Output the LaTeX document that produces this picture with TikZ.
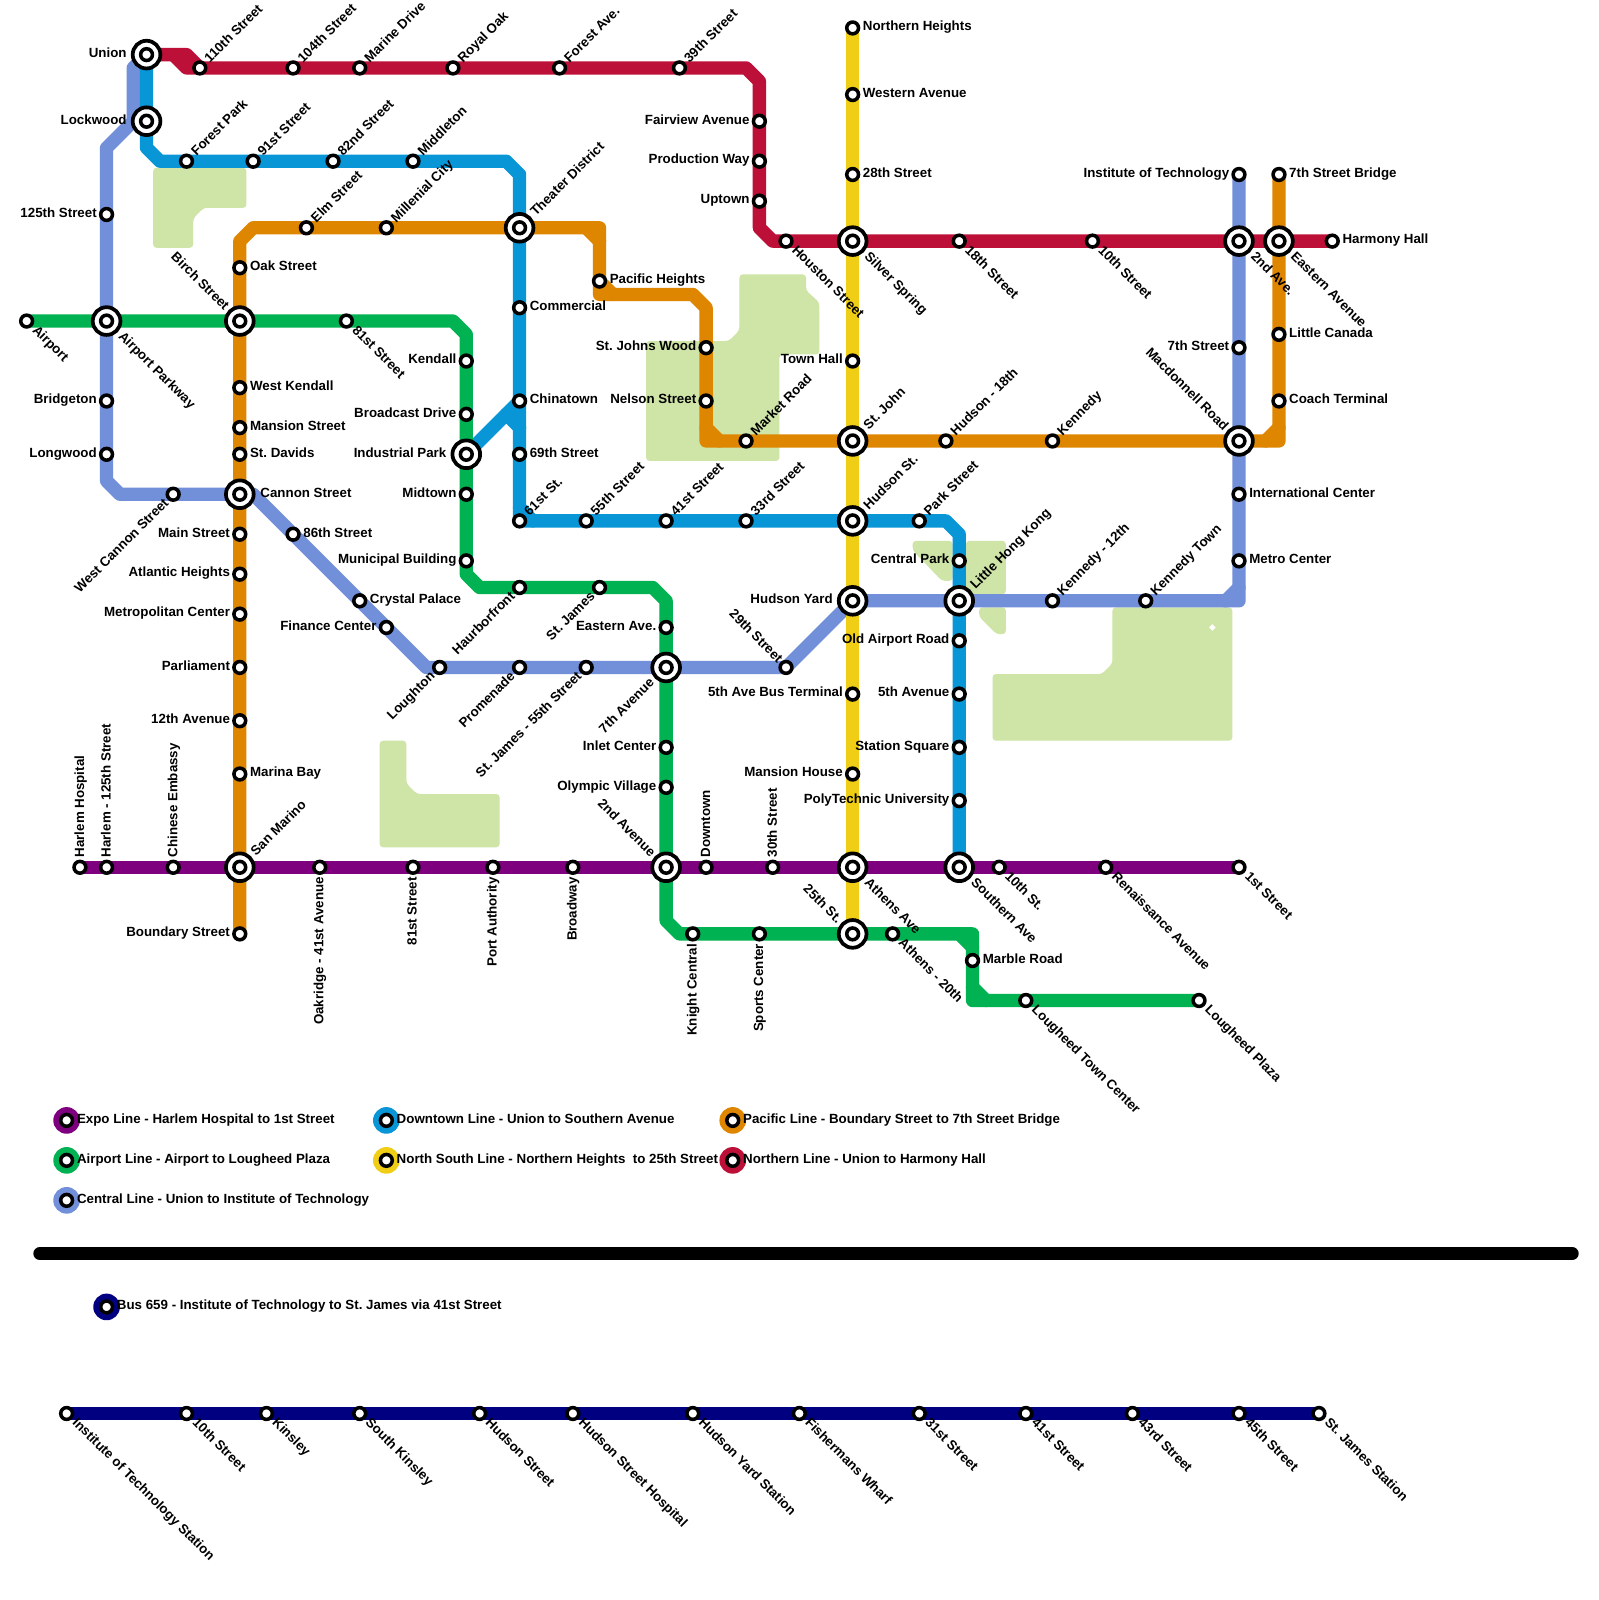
\documentclass[tikz,border=0pt]{standalone}
\usepackage{fontspec}
\setmainfont{Liberation Sans}
\definecolor{cred}{HTML}{BD1038}
\definecolor{cblue}{HTML}{0896D7}
\definecolor{corange}{HTML}{DF8600}
\definecolor{cyellow}{HTML}{F0CE15}
\definecolor{cgreen}{HTML}{00B251}
\definecolor{cperi}{HTML}{728FD9}
\definecolor{cpurple}{HTML}{7E007E}
\definecolor{cnavy}{HTML}{000080}
\definecolor{cpark}{HTML}{CFE4A7}
\pgfdeclarelayer{bg}
\pgfsetlayers{bg,main}
\tikzset{
  metroline/.style={line width=10pt,line cap=round,line join=round},
  station/.style={circle,fill=white,draw=black,line width=2.65pt,minimum size=8.85pt,inner sep=0pt,outer sep=0pt},
  hubring/.style={circle,fill=white,draw=black,line width=2.8pt,minimum size=20.8pt,inner sep=0pt,outer sep=0pt},
  legdot/.style={circle,minimum size=20pt,inner sep=0pt,outer sep=0pt},
  parkarea/.style={fill=cpark,rounded corners=2.5pt},
  lbl/.style={font=\fontsize{10}{12}\selectfont\bfseries\frenchspacing,inner sep=0pt,outer sep=0pt,text height=7.2pt,text depth=0pt},
  R/.style={xshift=7.7pt,yshift=1.5pt,anchor=west},
  L/.style={xshift=-7.4pt,yshift=1.5pt,anchor=east},
  UR/.style={xshift=5pt,yshift=6pt,rotate=45,anchor=west},
  DR/.style={xshift=6.5pt,yshift=-5pt,rotate=-45,anchor=west},
  UL/.style={xshift=-4pt,yshift=5.5pt,rotate=-45,anchor=east},
  DL/.style={xshift=-5.5pt,yshift=-4.8pt,rotate=45,anchor=east},
  VU/.style={xshift=-.5pt,yshift=7.5pt,rotate=90,anchor=west},
  VD/.style={xshift=-.8pt,yshift=-7.5pt,rotate=90,anchor=east},
  HR/.style={xshift=15.5pt,yshift=1.5pt,anchor=west},
  HL/.style={xshift=-15pt,yshift=1.5pt,anchor=east},
  HUR/.style={xshift=9.7pt,yshift=10.7pt,rotate=45,anchor=west},
  HDR/.style={xshift=11pt,yshift=-9.5pt,rotate=-45,anchor=west},
  HUL/.style={xshift=-9.4pt,yshift=10pt,rotate=-45,anchor=east},
  HDL/.style={xshift=-11pt,yshift=-9.6pt,rotate=45,anchor=east},
  LG/.style={xshift=7.8pt,yshift=1.5pt,anchor=west},
}
\newcommand\stn[5]{\node[station] (#1) at (#2,#3) {};\node[lbl,#4] (#1-t) at (#1.center) {#5};}
\newcommand\hub[5]{\node[hubring] (#1) at (#2,#3) {};\node[station] (#1-in) at (#1.center) {};\node[lbl,#4] (#1-t) at (#1.center) {#5};}
\newcommand\leg[5]{\node[legdot,fill=#4] (#1-d) at (#2,#3) {};\node[station] (#1) at (#1-d.center) {};\node[lbl,LG] (#1-t) at (#1.center) {#5};}
\newcommand\metro[3]{\draw[metroline,#1] (#2.center) \foreach \n in {#3} { -- (\n.center) };}
\begin{document}
\begin{tikzpicture}[x=10pt,y=-10pt]
\begin{pgfonlayer}{bg}
\path[use as bounding box,fill=white] (0,0) rectangle (120,120);
\end{pgfonlayer}
% corners
\foreach \n/\x/\y in {rc1/14/4,rc2/56/5,rc3/57/6,rc4/57/17,rc5/58/18,rc6/13/4,rc7/14/5,
 bc1/11/11,bc2/12/12,bc3/38/12,bc4/39/13,bd1/39/38,bd2/40/39,bc6/71/39,bc7/72/40,bc8/38/31,bc9/39/32,
 oc1/18/18,oc2/19/17,oc3/44/17,oc4/45/17,oc5/45/18,oc6/45/22,oc7/46/22,oc8/52/22,oc9/53/23,oc10/53/33,oc11/53/32,oc12/54/33,oc13/96/33,oc14/95/33,oc15/96/32,
 gc1/34/24,gc2/35/25,gc3/35/43,gc4/36/44,gc5/49/44,gc6/50/45,gc7/50/69,gc8/51/70,gc9/73/70,gc10/72/70,gc11/73/71,gc12/73/75,gc13/73/74,gc14/74/75,
 pc1/10/5,pc2/10/9,pc3/8/11,pc4/8/36,pc5/9/37,pc6/19/37,pc7/32/50,pc8/93/45,pc9/92/45,pc10/93/44,pc11/10.5/8.5,
 bar1/3/94,bar2/118/94}
  {\coordinate (\n) at (\x,\y);}
% hubs
\hub{union}{11}{4}{HL}{Union}
\hub{lockwood}{11}{9}{HL}{Lockwood}
\hub{theater}{39}{17}{HUR}{Theater District}
\hub{silver}{64}{18}{HDR}{Silver Spring}
\hub{secondave}{93}{18}{HDR}{2nd Ave.}
\hub{eastern}{96}{18}{HDR}{Eastern Avenue}
\hub{airportpk}{8}{24}{HDR}{Airport Parkway}
\hub{birch}{18}{24}{HUL}{Birch Street}
\hub{stjohn}{64}{33}{HUR}{St. John}
\hub{macdonnell}{93}{33}{HUL}{Macdonnell Road}
\hub{industrial}{35}{34}{HL}{Industrial Park}
\hub{cannon}{18}{37}{HR}{Cannon Street}
\hub{hudsonst}{64}{39}{HUR}{Hudson St.}
\hub{hudsonyard}{64}{45}{HL}{Hudson Yard}
\hub{littlehk}{72}{45}{HUR}{Little Hong Kong}
\hub{seventhave}{50}{50}{HDL}{7th Avenue}
\hub{sanmarino}{18}{65}{HUR}{San Marino}
\hub{secondavenue}{50}{65}{HUL}{2nd Avenue}
\hub{athensave}{64}{65}{HDR}{Athens Ave}
\hub{southern}{72}{65}{HDR}{Southern Ave}
\hub{twentyfifth}{64}{70}{HUL}{25th St.}
% red
\stn{s110}{15}{5}{UR}{110th Street}
\stn{s104}{22}{5}{UR}{104th Street}
\stn{marine}{27}{5}{UR}{Marine Drive}
\stn{royal}{34}{5}{UR}{Royal Oak}
\stn{forestave}{42}{5}{UR}{Forest Ave.}
\stn{s39}{51}{5}{UR}{39th Street}
\stn{fairview}{57}{9}{L}{Fairview Avenue}
\stn{production}{57}{12}{L}{Production Way}
\stn{uptown}{57}{15}{L}{Uptown}
\stn{houston}{59}{18}{DR}{Houston Street}
\stn{s18}{72}{18}{DR}{18th Street}
\stn{s10}{82}{18}{DR}{10th Street}
\stn{harmony}{100}{18}{R}{Harmony Hall}
% blue
\stn{forestpk}{14}{12}{UR}{Forest Park}
\stn{s91}{19}{12}{UR}{91st Street}
\stn{s82}{25}{12}{UR}{82nd Street}
\stn{middleton}{31}{12}{UR}{Middleton}
\stn{commercial}{39}{23}{R}{Commercial}
\stn{chinatown}{39}{30}{R}{Chinatown}
\stn{s69}{39}{34}{R}{69th Street}
\stn{s61}{39}{39}{UR}{61st St.}
\stn{s55}{44}{39}{UR}{55th Street}
\stn{s41}{50}{39}{UR}{41st Street}
\stn{s33}{56}{39}{UR}{33rd Street}
\stn{park}{69}{39}{UR}{Park Street}
\stn{centralpk}{72}{42}{L}{Central Park}
\stn{oldairport}{72}{48}{L}{Old Airport Road}
\stn{fifthave}{72}{52}{L}{5th Avenue}
\stn{stationsq}{72}{56}{L}{Station Square}
\stn{poly}{72}{60}{L}{PolyTechnic University}
% orange
\stn{boundary}{18}{70}{L}{Boundary Street}
\stn{marina}{18}{58}{R}{Marina Bay}
\stn{s12}{18}{54}{L}{12th Avenue}
\stn{parliament}{18}{50}{L}{Parliament}
\stn{metropolitan}{18}{46}{L}{Metropolitan Center}
\stn{atlantic}{18}{43}{L}{Atlantic Heights}
\stn{mainst}{18}{40}{L}{Main Street}
\stn{davids}{18}{34}{R}{St. Davids}
\stn{mansionst}{18}{32}{R}{Mansion Street}
\stn{westkendall}{18}{29}{R}{West Kendall}
\stn{oak}{18}{20}{R}{Oak Street}
\stn{elm}{23}{17}{UR}{Elm Street}
\stn{millenial}{29}{17}{UR}{Millenial City}
\stn{pacific}{45}{21}{R}{Pacific Heights}
\stn{stjohns}{53}{26}{L}{St. Johns Wood}
\stn{nelson}{53}{30}{L}{Nelson Street}
\stn{market}{56}{33}{UR}{Market Road}
\stn{hudson18}{71}{33}{UR}{Hudson - 18th}
\stn{kennedy}{79}{33}{UR}{Kennedy}
\stn{coach}{96}{30}{R}{Coach Terminal}
\stn{canada}{96}{25}{R}{Little Canada}
\stn{bridge}{96}{13}{R}{7th Street Bridge}
% yellow
\stn{northern}{64}{2}{R}{Northern Heights}
\stn{western}{64}{7}{R}{Western Avenue}
\stn{s28}{64}{13}{R}{28th Street}
\stn{townhall}{64}{27}{L}{Town Hall}
\stn{busterm}{64}{52}{L}{5th Ave Bus Terminal}
\stn{mansionh}{64}{58}{L}{Mansion House}
% green
\stn{airport}{2}{24}{DR}{Airport}
\stn{g81}{26}{24}{DR}{81st Street}
\stn{kendall}{35}{27}{L}{Kendall}
\stn{broadcast}{35}{31}{L}{Broadcast Drive}
\stn{midtown}{35}{37}{L}{Midtown}
\stn{municipal}{35}{42}{L}{Municipal Building}
\stn{haurbor}{39}{44}{DL}{Haurborfront}
\stn{stjames}{45}{44}{DL}{St. James}
\stn{easternave}{50}{47}{L}{Eastern Ave.}
\stn{inlet}{50}{56}{L}{Inlet Center}
\stn{olympic}{50}{59}{L}{Olympic Village}
\stn{knight}{52}{70}{VD}{Knight Central}
\stn{sports}{57}{70}{VD}{Sports Center}
\stn{athens20}{67}{70}{DR}{Athens - 20th}
\stn{marble}{73}{72}{R}{Marble Road}
\stn{lougheedtc}{77}{75}{DR}{Lougheed Town Center}
\stn{lougheedp}{90}{75}{DR}{Lougheed Plaza}
% central
\stn{s125}{8}{16}{L}{125th Street}
\stn{bridgeton}{8}{30}{L}{Bridgeton}
\stn{longwood}{8}{34}{L}{Longwood}
\stn{westcannon}{13}{37}{DL}{West Cannon Street}
\stn{s86}{22}{40}{R}{86th Street}
\stn{crystal}{27}{45}{R}{Crystal Palace}
\stn{finance}{29}{47}{L}{Finance Center}
\stn{loughton}{33}{50}{DL}{Loughton}
\stn{promenade}{39}{50}{DL}{Promenade}
\stn{james55}{44}{50}{DL}{St. James - 55th Street}
\stn{s29}{59}{50}{UL}{29th Street}
\stn{kennedy12}{79}{45}{UR}{Kennedy - 12th}
\stn{kennedyt}{86}{45}{UR}{Kennedy Town}
\stn{metrocenter}{93}{42}{R}{Metro Center}
\stn{intl}{93}{37}{R}{International Center}
\stn{s7}{93}{26}{L}{7th Street}
\stn{institute}{93}{13}{L}{Institute of Technology}
% expo
\stn{harlemh}{6}{65}{VU}{Harlem Hospital}
\stn{harlem125}{8}{65}{VU}{Harlem - 125th Street}
\stn{chinese}{13}{65}{VU}{Chinese Embassy}
\stn{oakridge}{24}{65}{VD}{Oakridge - 41st Avenue}
\stn{p81}{31}{65}{VD}{81st Street}
\stn{portauth}{37}{65}{VD}{Port Authority}
\stn{broadway}{43}{65}{VD}{Broadway}
\stn{downtown}{53}{65}{VU}{Downtown}
\stn{s30}{58}{65}{VU}{30th Street}
\stn{tenthst}{75}{65}{DR}{10th St.}
\stn{renaissance}{83}{65}{DR}{Renaissance Avenue}
\stn{first}{93}{65}{DR}{1st Street}
% bus
\stn{bInstitute}{5}{106}{DR}{Institute of Technology Station}
\stn{bTenth}{14}{106}{DR}{10th Street}
\stn{bKinsley}{20}{106}{DR}{Kinsley}
\stn{bSouth}{27}{106}{DR}{South Kinsley}
\stn{bHudson}{36}{106}{DR}{Hudson Street}
\stn{bHospital}{43}{106}{DR}{Hudson Street Hospital}
\stn{bYard}{52}{106}{DR}{Hudson Yard Station}
\stn{bWharf}{60}{106}{DR}{Fishermans Wharf}
\stn{b31}{69}{106}{DR}{31st Street}
\stn{b41}{77}{106}{DR}{41st Street}
\stn{b43}{85}{106}{DR}{43rd Street}
\stn{b45}{93}{106}{DR}{45th Street}
\stn{bJames}{99}{106}{DR}{St. James Station}
% legend
\leg{lg1}{5}{84}{cpurple}{Expo Line - Harlem Hospital to 1st Street}
\leg{lg2}{5}{87}{cgreen}{Airport Line - Airport to Lougheed Plaza}
\leg{lg3}{5}{90}{cperi}{Central Line - Union to Institute of Technology}
\leg{lg4}{29}{84}{cblue}{Downtown Line - Union to Southern Avenue}
\leg{lg5}{29}{87}{cyellow}{North South Line - Northern Heights\ \ to 25th Street}
\leg{lg6}{55}{84}{corange}{Pacific Line - Boundary Street to 7th Street Bridge}
\leg{lg7}{55}{87}{cred}{Northern Line - Union to Harmony Hall}
\leg{lg8}{8}{98}{cnavy}{Bus 659 - Institute of Technology to St. James via 41st Street}
\begin{pgfonlayer}{bg}
% parks
\fill[parkarea] (11.5,12.5) -- (18.5,12.5) -- (18.5,15.5) -- (15.3,15.5) -- (14.5,16.3) -- (14.5,18.5) -- (11.5,18.5) -- cycle;
\fill[parkarea] (55.5,20.5) -- (60.5,20.5) -- (60.5,21.7) -- (61.5,22.6) -- (61.5,26.5) -- (58.5,26.5) -- (58.5,34.5) -- (48.5,34.5) -- (48.5,25.5) -- (54.7,25.5) -- (55.5,24.7) -- cycle;
\fill[parkarea] (68.5,40.5) -- (71.5,40.5) -- (71.5,43.5) -- (70.7,43.5) -- (68.5,41.2) -- cycle;
\fill[parkarea] (72.5,40.5) -- (75.5,40.5) -- (75.5,44.5) -- (72.5,44.5) -- cycle;
\fill[parkarea] (73.5,45.5) -- (75.5,45.5) -- (75.5,47.5) -- (74.8,47.5) -- (73.5,46.2) -- cycle;
\fill[parkarea] (83.5,45.5) -- (92.5,45.5) -- (92.5,55.5) -- (74.5,55.5) -- (74.5,50.5) -- (82.7,50.5) -- (83.5,49.7) -- cycle;
\fill[white] (91,46.75) -- (91.25,47) -- (91,47.25) -- (90.75,47) -- cycle;
\fill[parkarea] (28.5,55.5) -- (30.5,55.5) -- (30.5,58.7) -- (31.3,59.5) -- (37.5,59.5) -- (37.5,63.5) -- (28.5,63.5) -- cycle;
% lines
\metro{black}{bar1}{bar2}
\metro{cnavy}{bInstitute}{bTenth,bKinsley,bSouth,bHudson,bHospital,bYard,bWharf,b31,b41,b43,b45,bJames}
\metro{cperi}{union}{pc1,pc2,pc3,s125,airportpk,bridgeton,longwood,pc4,pc5,westcannon,cannon,pc6,s86,crystal,finance,pc7,loughton,promenade,james55,seventhave,s29,hudsonyard,littlehk,kennedy12,kennedyt,pc8,metrocenter,intl,macdonnell,s7,secondave,institute}
\metro{cperi}{pc2}{pc11}
\metro{cperi}{pc9}{pc10}
\metro{cyellow}{northern}{western,s28,silver,townhall,stjohn,hudsonst,hudsonyard,busterm,mansionh,athensave,twentyfifth}
\metro{cblue}{union}{lockwood,bc1,bc2,forestpk,s91,s82,middleton,bc3,bc4,theater,commercial,chinatown,s69,s61,s55,s41,s33,hudsonst,park,bc6,bc7,centralpk,littlehk,oldairport,fifthave,stationsq,poly,southern}
\metro{cblue}{industrial}{bc8,chinatown}
\metro{cblue}{bc8}{bc9}
\metro{cblue}{bd1}{bd2}
\metro{corange}{boundary}{sanmarino,marina,s12,parliament,metropolitan,atlantic,mainst,cannon,davids,mansionst,westkendall,birch,oak,oc1,oc2,elm,millenial,theater,oc4,pacific,oc6,oc8,oc9,stjohns,nelson,oc10,market,stjohn,hudson18,kennedy,macdonnell,oc13,coach,canada,eastern,bridge}
\metro{corange}{oc3}{oc5}
\metro{corange}{pacific}{oc7}
\metro{corange}{oc11}{oc12}
\metro{corange}{oc14}{oc15}
\metro{cgreen}{airport}{airportpk,birch,g81,gc1,gc2,kendall,broadcast,industrial,midtown,municipal,gc3,gc4,haurbor,stjames,gc5,gc6,easternave,seventhave,inlet,olympic,secondavenue,gc7,gc8,knight,sports,twentyfifth,athens20,gc9,marble,gc12,lougheedtc,lougheedp}
\metro{cgreen}{gc10}{gc11}
\metro{cgreen}{gc13}{gc14}
\metro{cred}{union}{rc1,s110,s104,marine,royal,forestave,s39,rc2,rc3,fairview,production,uptown,rc4,rc5,houston,silver,s18,s10,secondave,eastern,harmony}
\metro{cred}{rc6}{rc7,s110}
\metro{cpurple}{harlemh}{harlem125,chinese,sanmarino,oakridge,p81,portauth,broadway,secondavenue,downtown,s30,athensave,southern,tenthst,renaissance,first}
\end{pgfonlayer}
\end{tikzpicture}
\end{document}
